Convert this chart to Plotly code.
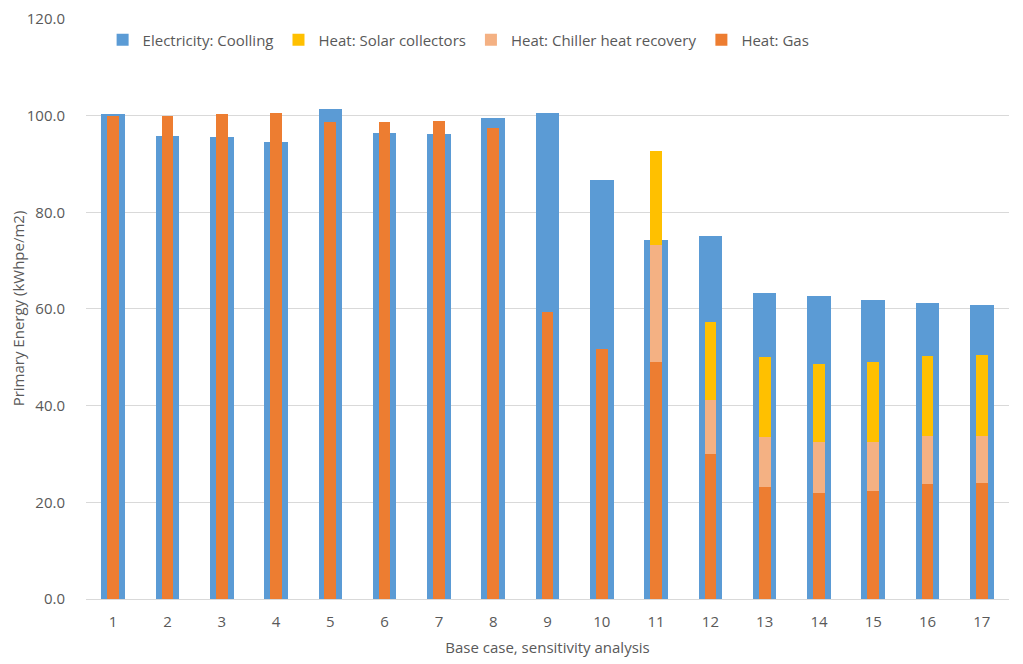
import plotly.graph_objects as go

cases = [str(i) for i in range(1, 18)]
electricity_cooling = [100.4, 95.8, 95.5, 94.6, 101.4, 96.5, 96.2, 99.5, 100.5,
                       86.6, 74.3, 75.0, 63.3, 62.7, 61.9, 61.2, 60.9]
heat_gas = [100.0, 100.0, 100.3, 100.5, 98.7, 98.7, 98.9, 97.5, 59.4,
            51.7, 49.0, 30.0, 23.2, 22.0, 22.3, 23.7, 23.9]
heat_chiller = [0, 0, 0, 0, 0, 0, 0, 0, 0,
                0, 24.2, 11.1, 10.4, 10.4, 10.1, 10.0, 9.8]
heat_solar = [0, 0, 0, 0, 0, 0, 0, 0, 0,
              0, 19.4, 16.3, 16.5, 16.3, 16.6, 16.6, 16.8]

base_chiller = heat_gas
base_solar = [g + c for g, c in zip(heat_gas, heat_chiller)]

font_fam = "Open Sans, Noto Sans, sans-serif"
grey = "#595959"

fig = go.Figure()
fig.add_trace(go.Bar(x=cases, y=electricity_cooling, name="Electricity: Coolling",
                     marker=dict(color="#5B9BD5", line=dict(width=0)),
                     width=0.435, legendrank=1))
fig.add_trace(go.Bar(x=cases, y=heat_gas, name="Heat: Gas",
                     marker=dict(color="#ED7D31", line=dict(width=0)),
                     width=0.215, legendrank=4))
fig.add_trace(go.Bar(x=cases, y=heat_chiller, base=base_chiller,
                     name="Heat: Chiller heat recovery",
                     marker=dict(color="#F4B183", line=dict(width=0)),
                     width=0.215, legendrank=3))
fig.add_trace(go.Bar(x=cases, y=heat_solar, base=base_solar,
                     name="Heat: Solar collectors",
                     marker=dict(color="#FFC000", line=dict(width=0)),
                     width=0.215, legendrank=2))

fig.update_layout(
    width=1023, height=664,
    barmode="overlay",
    plot_bgcolor="white", paper_bgcolor="white",
    margin=dict(l=78, r=22, t=10, b=73, autoexpand=False),
    font=dict(family=font_fam, color=grey, size=15),
    legend=dict(orientation="h", x=0.018, y=0.962, xanchor="left", yanchor="middle",
                font=dict(size=15, color=grey),
                bgcolor="rgba(0,0,0,0)", traceorder="normal"),
    bargap=0,
)
fig.update_xaxes(title=dict(text="Base case, sensitivity analysis", font=dict(size=15, color=grey), standoff=12),
                 tickfont=dict(size=15, color=grey), showgrid=False, showline=False,
                 ticks="", type="category", ticklabelstandoff=12)
fig.update_yaxes(title=dict(text="Primary Energy (kWhpe/m2)", font=dict(size=15, color=grey), standoff=4),
                 range=[0, 120.2], tickvals=[0, 20, 40, 60, 80, 100, 120], tickformat=".1f",
                 tickfont=dict(size=15, color=grey), ticklabelstandoff=20,
                 showgrid=True, gridcolor="#D9D9D9", gridwidth=1,
                 zeroline=True, zerolinecolor="#D9D9D9", zerolinewidth=1,
                 showline=False, ticks="")

fig.write_html("out.html")
